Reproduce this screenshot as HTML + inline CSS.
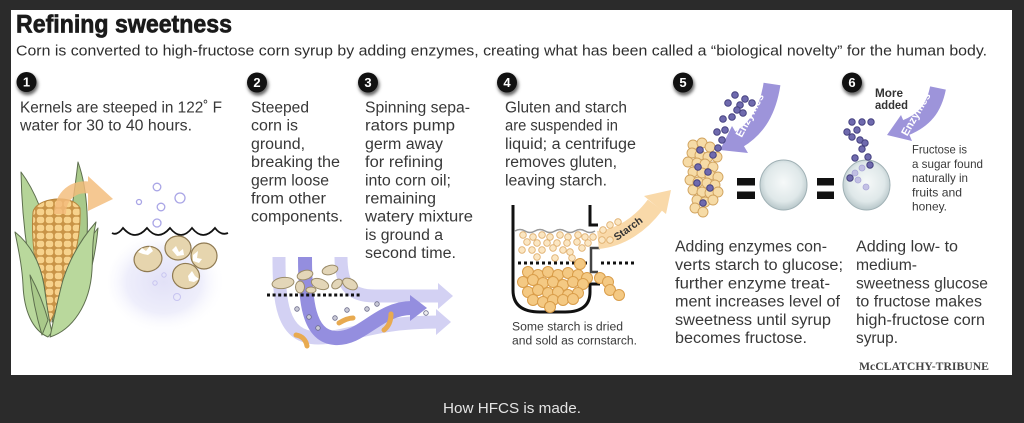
<!DOCTYPE html>
<html><head><meta charset="utf-8">
<style>
html,body{margin:0;padding:0;background:#2b2b2b;}
svg{display:block}
</style></head>
<body>
<svg width="1024" height="423" viewBox="0 0 1024 423" xmlns="http://www.w3.org/2000/svg" font-family="'Liberation Sans', sans-serif">
<defs>
 <filter id="sh" x="-50%" y="-50%" width="200%" height="200%"><feGaussianBlur stdDeviation="1.6"/></filter>
 <radialGradient id="water" cx="0.45" cy="0.5" r="0.5">
   <stop offset="0" stop-color="#e2e1f7"/>
   <stop offset="0.6" stop-color="#eeeefb"/>
   <stop offset="1" stop-color="#ffffff" stop-opacity="0"/>
 </radialGradient>
 <radialGradient id="glob" cx="0.5" cy="0.45" r="0.55">
   <stop offset="0" stop-color="#f6f9f9"/>
   <stop offset="0.7" stop-color="#dfe8e9"/>
   <stop offset="1" stop-color="#b8c7ca"/>
 </radialGradient>
 <pattern id="kern" width="9" height="8" patternUnits="userSpaceOnUse">
   <rect width="9" height="8" fill="#c99447"/>
   <rect x="0.8" y="0.8" width="7.4" height="6.4" rx="2.5" fill="#f7d28c"/>
 </pattern>
 <clipPath id="cobclip"><path d="M33,212 C36,198 72,193 80,208 C82,245 66,290 50,322 C40,290 30,250 33,212 Z"/></clipPath>
</defs>

<rect width="1024" height="423" fill="#2b2b2b"/>
<rect x="11" y="10" width="1001" height="365" fill="#ffffff"/>

<!-- Title -->
<text x="16" y="32.5" font-size="25" font-weight="bold" fill="#1a1a1a" stroke="#1a1a1a" stroke-width="0.7" textLength="216" lengthAdjust="spacingAndGlyphs">Refining sweetness</text>
<text x="16" y="55.5" font-size="15" fill="#2e2e2e" textLength="971" lengthAdjust="spacingAndGlyphs">Corn is converted to high-fructose corn syrup by adding enzymes, creating what has been called a “biological novelty” for the human body.</text>

<!-- Number circles -->
<g font-weight="bold" font-size="13" fill="#fff" text-anchor="middle">
 <circle cx="27.5" cy="84.5" r="10.5" fill="#666" filter="url(#sh)"/><circle cx="26.5" cy="82" r="10" fill="#111"/><text x="26.5" y="86.5">1</text>
 <circle cx="258" cy="85" r="10.5" fill="#666" filter="url(#sh)"/><circle cx="257" cy="82.5" r="10" fill="#111"/><text x="257" y="87">2</text>
 <circle cx="369" cy="85" r="10.5" fill="#666" filter="url(#sh)"/><circle cx="368" cy="82.5" r="10" fill="#111"/><text x="368" y="87">3</text>
 <circle cx="508" cy="85" r="10.5" fill="#666" filter="url(#sh)"/><circle cx="507" cy="82.5" r="10" fill="#111"/><text x="507" y="87">4</text>
 <circle cx="684" cy="85" r="10.5" fill="#666" filter="url(#sh)"/><circle cx="683" cy="82.5" r="10" fill="#111"/><text x="683" y="87">5</text>
 <circle cx="853" cy="85" r="10.5" fill="#666" filter="url(#sh)"/><circle cx="852" cy="82.5" r="10" fill="#111"/><text x="852" y="87">6</text>
</g>

<!-- Step texts -->
<g font-size="15.5" fill="#383838">
 <text x="20" y="112.5" textLength="202" lengthAdjust="spacingAndGlyphs">Kernels are steeped in 122˚ F</text>
 <text x="20" y="130.7" textLength="172" lengthAdjust="spacingAndGlyphs">water for 30 to 40 hours.</text>

 <text x="251" y="112.5" textLength="58" lengthAdjust="spacingAndGlyphs">Steeped</text>
 <text x="251" y="130.7" textLength="47" lengthAdjust="spacingAndGlyphs">corn is</text>
 <text x="251" y="148.9" textLength="54" lengthAdjust="spacingAndGlyphs">ground,</text>
 <text x="251" y="167.1" textLength="89" lengthAdjust="spacingAndGlyphs">breaking the</text>
 <text x="251" y="185.3" textLength="78" lengthAdjust="spacingAndGlyphs">germ loose</text>
 <text x="251" y="203.5" textLength="75" lengthAdjust="spacingAndGlyphs">from other</text>
 <text x="251" y="221.7" textLength="92" lengthAdjust="spacingAndGlyphs">components.</text>

 <text x="365" y="112.5" textLength="105" lengthAdjust="spacingAndGlyphs">Spinning sepa-</text>
 <text x="365" y="130.7" textLength="90" lengthAdjust="spacingAndGlyphs">rators pump</text>
 <text x="365" y="148.9" textLength="78" lengthAdjust="spacingAndGlyphs">germ away</text>
 <text x="365" y="167.1" textLength="78" lengthAdjust="spacingAndGlyphs">for refining</text>
 <text x="365" y="185.3" textLength="86" lengthAdjust="spacingAndGlyphs">into corn oil;</text>
 <text x="365" y="203.5" textLength="71" lengthAdjust="spacingAndGlyphs">remaining</text>
 <text x="365" y="221.7" textLength="108" lengthAdjust="spacingAndGlyphs">watery mixture</text>
 <text x="365" y="239.9" textLength="78" lengthAdjust="spacingAndGlyphs">is ground a</text>
 <text x="365" y="258.1" textLength="91" lengthAdjust="spacingAndGlyphs">second time.</text>

 <text x="505" y="112.5" textLength="122" lengthAdjust="spacingAndGlyphs">Gluten and starch</text>
 <text x="505" y="130.7" textLength="113" lengthAdjust="spacingAndGlyphs">are suspended in</text>
 <text x="505" y="148.9" textLength="131" lengthAdjust="spacingAndGlyphs">liquid; a centrifuge</text>
 <text x="505" y="167.1" textLength="112" lengthAdjust="spacingAndGlyphs">removes gluten,</text>
 <text x="505" y="185.3" textLength="102" lengthAdjust="spacingAndGlyphs">leaving starch.</text>

 <text x="675" y="251.7" textLength="152" lengthAdjust="spacingAndGlyphs">Adding enzymes con-</text>
 <text x="675" y="270" textLength="168" lengthAdjust="spacingAndGlyphs">verts starch to glucose;</text>
 <text x="675" y="288.3" textLength="155" lengthAdjust="spacingAndGlyphs">further enzyme treat-</text>
 <text x="675" y="306.6" textLength="165" lengthAdjust="spacingAndGlyphs">ment increases level of</text>
 <text x="675" y="324.9" textLength="156" lengthAdjust="spacingAndGlyphs">sweetness until syrup</text>
 <text x="675" y="343.2" textLength="132" lengthAdjust="spacingAndGlyphs">becomes fructose.</text>

 <text x="856" y="251.7" textLength="102" lengthAdjust="spacingAndGlyphs">Adding low- to</text>
 <text x="856" y="270" textLength="61" lengthAdjust="spacingAndGlyphs">medium-</text>
 <text x="856" y="288.3" textLength="132" lengthAdjust="spacingAndGlyphs">sweetness glucose</text>
 <text x="856" y="306.6" textLength="126" lengthAdjust="spacingAndGlyphs">to fructose makes</text>
 <text x="856" y="324.9" textLength="129" lengthAdjust="spacingAndGlyphs">high-fructose corn</text>
 <text x="856" y="343.2" textLength="42" lengthAdjust="spacingAndGlyphs">syrup.</text>
</g>

<!-- ============ STEP 1: corn ============ -->
<g stroke="#5d6e4d" stroke-width="1" stroke-linejoin="round">
 <path d="M52,322 C62,270 72,215 78,162 C88,190 90,230 84,270 C78,295 66,315 52,322 Z" fill="#a9c98a"/>
 <path d="M45,326 C30,285 22,225 21,172 C36,192 46,220 52,250 Z" fill="#b5d498"/>
 <path d="M56,300 C70,270 85,245 98,228 C95,260 88,290 70,315 Z" fill="#b0d094"/>
</g>
<g clip-path="url(#cobclip)">
 <rect x="28" y="190" width="60" height="140" fill="url(#kern)"/>
</g>
<path d="M33,212 C36,198 72,193 80,208 C82,245 66,290 50,322 C40,290 30,250 33,212 Z" fill="none" stroke="#b4843c" stroke-width="1"/>
<g stroke="#5d6e4d" stroke-width="1" stroke-linejoin="round">
 <path d="M48,337 C32,330 24,310 23,285 C22,265 18,248 15,232 C30,244 40,262 44,285 C47,305 49,322 52,332 Z" fill="#b9d89c"/>
 <path d="M50,337 C72,330 90,305 92,270 C93,252 92,240 96,222 C82,238 70,258 63,280 C58,298 54,318 50,337 Z" fill="#b9d89c"/>
 <path d="M42,335 C36,315 32,295 30,275 C38,290 44,305 48,320 Z" fill="#a9c98a"/>
</g>
<!-- orange arrow -->
<g opacity="0.82">
 <path d="M60,214 C60,196 74,184 92,188" fill="none" stroke="#f4bc7b" stroke-width="12"/>
 <polygon points="88,176 113,199 88,211" fill="#f4bc7b"/>
</g>
<!-- water -->
<ellipse cx="170" cy="282" rx="62" ry="52" fill="url(#water)"/>
<g fill="none" stroke="#a9a5e6" stroke-width="1.3">
 <circle cx="157" cy="187" r="3.8"/>
 <circle cx="180" cy="198" r="5"/>
 <circle cx="139" cy="202" r="2.5"/>
 <circle cx="161" cy="207" r="3.8"/>
 <circle cx="157" cy="223" r="4"/>
</g>
<path d="M112,233 Q117,236 123,228 Q135,242 147,228 Q158,242 170,228 Q181,242 192,228 Q203,242 215,228 Q221,236 228,233" fill="none" stroke="#111" stroke-width="1.8"/>
<g stroke="#8f7a52" stroke-width="1.2" fill="#e6d5ae">
 <ellipse cx="148" cy="259" rx="14" ry="12.5" transform="rotate(-15 148 259)"/>
 <ellipse cx="178" cy="248" rx="13" ry="12"/>
 <ellipse cx="186" cy="276" rx="13.5" ry="12.5" transform="rotate(10 186 276)"/>
 <ellipse cx="204" cy="256" rx="13" ry="13"/>
</g>
<g fill="#fff">
 <polygon points="138,252 142,248 146,251 150,246 153,251 148,255 143,254"/>
 <polygon points="172,250 176,246 179,252 183,249 184,255 177,256"/>
 <polygon points="193,255 198,251 197,258 202,259 199,263 193,261"/>
 <polygon points="188,276 192,271 195,276 199,279 194,282 189,281"/>
</g>
<g fill="none" stroke="#c7c4f0" stroke-width="1">
 <circle cx="164" cy="275" r="2.2"/>
 <circle cx="155" cy="283" r="2.2"/>
 <circle cx="177" cy="297" r="3.5"/>
</g>

<!-- ============ STEP 2/3 diagram ============ -->
<g fill="none" stroke-linecap="butt">
 <path d="M279,257 C279,300 281,338 318,338 C350,338 370,322 438,322" stroke="#d3d1f3" stroke-width="13"/>
 <path d="M341,257 C341,283 348,296 375,296 L440,296" stroke="#d3d1f3" stroke-width="13"/>
 <path d="M305,257 C305,300 308,336 335,338 C362,340 378,308 412,308" stroke="#948edf" stroke-width="14"/>
</g>
<polygon points="436,309 451,322 436,335" fill="#d3d1f3"/>
<polygon points="438,283 453,296 438,309" fill="#d3d1f3"/>
<polygon points="410,295 427,308 410,321" fill="#948edf"/>
<g fill="#e3d6b8" stroke="#9b8c6a" stroke-width="1">
 <ellipse cx="283" cy="283" rx="11" ry="5.5" transform="rotate(-8 283 283)"/>
 <ellipse cx="305" cy="275" rx="8" ry="4.5" transform="rotate(-15 305 275)"/>
 <ellipse cx="330" cy="270" rx="8" ry="4.5" transform="rotate(-15 330 270)"/>
 <ellipse cx="320" cy="284" rx="9" ry="5" transform="rotate(20 320 284)"/>
 <ellipse cx="337" cy="284" rx="6" ry="4" transform="rotate(-40 337 284)"/>
 <ellipse cx="350" cy="284" rx="8" ry="5" transform="rotate(30 350 284)"/>
 <ellipse cx="300" cy="287" rx="4.5" ry="6"/>
 <ellipse cx="311" cy="290" rx="5" ry="3"/>
</g>
<line x1="267" y1="295" x2="360" y2="295" stroke="#111" stroke-width="3" stroke-dasharray="3,2.6"/>
<g fill="#c9c9d6" stroke="#6b6b8a" stroke-width="0.8">
 <circle cx="297" cy="309" r="2.3"/>
 <circle cx="309" cy="317" r="2.3"/>
 <circle cx="318" cy="328" r="2.3"/>
 <circle cx="335" cy="318" r="2.3"/>
 <circle cx="367" cy="309" r="2.3"/>
 <circle cx="377" cy="304" r="2.3"/>
 <circle cx="347" cy="310" r="2.3"/>
 <circle cx="426" cy="313" r="2.3" fill="#eee"/>
</g>
<g fill="none" stroke="#e8aa50" stroke-width="5" stroke-linecap="round">
 <path d="M296,335 C302,336 306,340 307,346"/>
 <path d="M339,323 C344,320 349,318 353,318"/>
 <path d="M384,330 C389,326 391,320 391,314"/>
</g>

<!-- ============ STEP 4: centrifuge ============ -->
<g fill="none" stroke="#111" stroke-width="3">
 <path d="M513,205 L513,290 Q513,312 540,312 L565,312 Q590,312 590,292 L590,284 L600,284"/>
 <path d="M590,205 L590,225 L598,225"/>
 <path d="M600,248 L591,248 L591,272 L598,272" stroke="#444" stroke-width="2.5"/>
</g>
<path d="M515,231 q5,-3 10,0 t10,0 t10,0 t10,0 t10,0 t10,0 t10,0 t10,0" fill="none" stroke="#999" stroke-width="1.5"/>
<!-- starch arrow -->
<path d="M598,240 C620,238 640,225 655,205" fill="none" stroke="#f9d9a9" stroke-width="18"/>
<polygon points="644,196 671,190 666,214" fill="#f9d9a9"/>
<text x="0" y="0" font-size="10.5" font-weight="bold" fill="#333" transform="translate(617,241) rotate(-36)">Starch</text>
<g fill="#fbe6c2" stroke="#e0b070" stroke-width="0.9">
 <circle cx="523" cy="235" r="3.3"/><circle cx="533" cy="237" r="3.3"/><circle cx="542" cy="235" r="3.3"/>
 <circle cx="550" cy="237" r="3.3"/><circle cx="560" cy="235" r="3.3"/><circle cx="568" cy="237" r="3.3"/>
 <circle cx="578" cy="235" r="3.3"/><circle cx="585" cy="237" r="3.3"/><circle cx="593" cy="237" r="3.3"/>
 <circle cx="602" cy="240" r="3.3"/><circle cx="610" cy="240" r="3.3"/>
 <circle cx="527" cy="242" r="3.3"/><circle cx="537" cy="243" r="3.3"/><circle cx="547" cy="243" r="3.3"/>
 <circle cx="557" cy="243" r="3.3"/><circle cx="567" cy="243" r="3.3"/><circle cx="577" cy="242" r="3.3"/>
 <circle cx="588" cy="243" r="3.3"/><circle cx="522" cy="250" r="3.3"/><circle cx="532" cy="250" r="3.3"/>
 <circle cx="542" cy="250" r="3.3"/><circle cx="553" cy="248" r="3.3"/><circle cx="563" cy="250" r="3.3"/>
 <circle cx="570" cy="252" r="3.3"/><circle cx="582" cy="248" r="3.3"/><circle cx="537" cy="257" r="3.3"/>
 <circle cx="555" cy="258" r="3.3"/><circle cx="572" cy="258" r="3.3"/>
 <circle cx="603" cy="230" r="3.3"/><circle cx="610" cy="225" r="3.3"/><circle cx="618" cy="222" r="3.3"/>
</g>
<line x1="518" y1="263" x2="587" y2="263" stroke="#111" stroke-width="3" stroke-dasharray="3,3"/>
<line x1="601" y1="263" x2="634" y2="263" stroke="#111" stroke-width="3" stroke-dasharray="3,3"/>
<g fill="#f4c983" stroke="#d99d4a" stroke-width="1">
 <circle cx="580" cy="264" r="5.5"/>
 <circle cx="528" cy="272" r="5.5"/><circle cx="538" cy="275" r="5.5"/><circle cx="548" cy="272" r="5.5"/>
 <circle cx="558" cy="275" r="5.5"/><circle cx="568" cy="273" r="5.5"/><circle cx="578" cy="275" r="5.5"/>
 <circle cx="587" cy="278" r="5.5"/><circle cx="523" cy="282" r="5.5"/><circle cx="533" cy="280" r="5.5"/>
 <circle cx="543" cy="283" r="5.5"/><circle cx="553" cy="282" r="5.5"/><circle cx="563" cy="285" r="5.5"/>
 <circle cx="573" cy="282" r="5.5"/><circle cx="583" cy="284" r="5.5"/><circle cx="528" cy="292" r="5.5"/>
 <circle cx="538" cy="290" r="5.5"/><circle cx="548" cy="293" r="5.5"/><circle cx="558" cy="292" r="5.5"/>
 <circle cx="568" cy="295" r="5.5"/><circle cx="578" cy="293" r="5.5"/><circle cx="533" cy="300" r="5.5"/>
 <circle cx="543" cy="302" r="5.5"/><circle cx="553" cy="300" r="5.5"/><circle cx="563" cy="300" r="5.5"/>
 <circle cx="573" cy="299" r="5.5"/><circle cx="550" cy="307" r="5.5"/>
 <circle cx="600" cy="278" r="5.5"/><circle cx="608" cy="282" r="5.5"/><circle cx="610" cy="290" r="5.5"/><circle cx="619" cy="295" r="5.5"/>
</g>
<g font-size="11.5" fill="#3a3a3a">
 <text x="512" y="330.5" textLength="111" lengthAdjust="spacingAndGlyphs">Some starch is dried</text>
 <text x="512" y="344.5" textLength="125" lengthAdjust="spacingAndGlyphs">and sold as cornstarch.</text>
</g>

<!-- ============ STEP 5 ============ -->
<path d="M772,84 C768,110 758,128 738,140" fill="none" stroke="#9d94da" stroke-width="17"/>
<polygon points="732,126 748,153 720,150" fill="#9d94da"/>
<text x="0" y="0" font-size="11" font-weight="bold" fill="#fff" text-anchor="middle" transform="translate(753,117) rotate(-62)">Enzymes</text>
<g fill="#f6dba6" stroke="#d1a35e" stroke-width="0.9">
 <circle cx="693" cy="145" r="5"/><circle cx="702" cy="143" r="5"/><circle cx="710" cy="147" r="5"/>
 <circle cx="692" cy="153" r="5"/><circle cx="700" cy="155" r="5"/><circle cx="708" cy="157" r="5"/>
 <circle cx="717" cy="157" r="5"/><circle cx="688" cy="162" r="5"/><circle cx="697" cy="163" r="5"/>
 <circle cx="705" cy="164" r="5"/><circle cx="713" cy="167" r="5"/><circle cx="693" cy="172" r="5"/>
 <circle cx="702" cy="173" r="5"/><circle cx="710" cy="175" r="5"/><circle cx="718" cy="177" r="5"/>
 <circle cx="690" cy="180" r="5"/><circle cx="698" cy="182" r="5"/><circle cx="707" cy="183" r="5"/>
 <circle cx="715" cy="185" r="5"/><circle cx="693" cy="190" r="5"/><circle cx="702" cy="192" r="5"/>
 <circle cx="710" cy="193" r="5"/><circle cx="718" cy="192" r="5"/><circle cx="697" cy="200" r="5"/>
 <circle cx="705" cy="202" r="5"/><circle cx="713" cy="200" r="5"/><circle cx="695" cy="208" r="5"/>
 <circle cx="703" cy="212" r="5"/>
</g>
<g fill="#6f6aae" stroke="#45417f" stroke-width="1">
 <circle cx="735" cy="95" r="3.3"/><circle cx="745" cy="99" r="3.3"/><circle cx="728" cy="103" r="3.3"/>
 <circle cx="740" cy="105" r="3.3"/><circle cx="752" cy="103" r="3.3"/><circle cx="737" cy="110" r="3.3"/>
 <circle cx="743" cy="113" r="3.3"/><circle cx="732" cy="117" r="3.3"/><circle cx="723" cy="119" r="3.3"/>
 <circle cx="725" cy="130" r="3.3"/><circle cx="717" cy="132" r="3.3"/><circle cx="722" cy="140" r="3.3"/>
 <circle cx="718" cy="148" r="3.3"/>
 <circle cx="700" cy="150" r="3.3"/><circle cx="713" cy="155" r="3.3"/><circle cx="698" cy="167" r="3.3"/>
 <circle cx="708" cy="172" r="3.3"/><circle cx="697" cy="183" r="3.3"/><circle cx="710" cy="188" r="3.3"/>
 <circle cx="703" cy="203" r="3.3"/>
</g>
<rect x="737" y="178" width="18" height="7.5" fill="#111"/>
<rect x="737" y="191.5" width="18" height="7.5" fill="#111"/>
<ellipse cx="783.5" cy="185" rx="23.5" ry="25" fill="url(#glob)" stroke="#9fb0b4" stroke-width="1"/>
<rect x="817" y="178" width="17" height="7.5" fill="#111"/>
<rect x="817" y="191.5" width="17" height="7.5" fill="#111"/>

<!-- ============ STEP 6 ============ -->
<ellipse cx="866.5" cy="185" rx="23.5" ry="25" fill="url(#glob)" stroke="#9fb0b4" stroke-width="1"/>
<path d="M938,88 C934,108 925,120 905,128" fill="none" stroke="#9d94da" stroke-width="16"/>
<polygon points="901,115 912,141 887,135" fill="#9d94da"/>
<text x="0" y="0" font-size="11" font-weight="bold" fill="#fff" text-anchor="middle" transform="translate(919,116) rotate(-60)">Enzymes</text>
<g font-size="11.5" font-weight="bold" fill="#333">
 <text x="875" y="97" textLength="28" lengthAdjust="spacingAndGlyphs">More</text>
 <text x="875" y="109" textLength="33" lengthAdjust="spacingAndGlyphs">added</text>
</g>
<g fill="#6f6aae" stroke="#45417f" stroke-width="1">
 <circle cx="852" cy="122" r="3.2"/><circle cx="862" cy="122" r="3.2"/><circle cx="871" cy="122" r="3.2"/>
 <circle cx="847" cy="132" r="3.2"/><circle cx="857" cy="130" r="3.2"/><circle cx="852" cy="137" r="3.2"/>
 <circle cx="860" cy="140" r="3.2"/><circle cx="865" cy="143" r="3.2"/><circle cx="862" cy="149" r="3.2"/>
 <circle cx="868" cy="157" r="3.2"/><circle cx="855" cy="158" r="3.2"/><circle cx="870" cy="165" r="3.2"/>
 <circle cx="850" cy="178" r="3.2"/>
</g>
<g fill="#b9b5e2" stroke="#9a95d2" stroke-width="0.8" opacity="0.8">
 <circle cx="862" cy="168" r="3"/><circle cx="855" cy="173" r="3"/><circle cx="858" cy="180" r="3"/><circle cx="866" cy="187" r="3"/>
</g>
<g font-size="12" fill="#3a3a3a">
 <text x="912" y="153.5" textLength="55" lengthAdjust="spacingAndGlyphs">Fructose is</text>
 <text x="912" y="167.8" textLength="71" lengthAdjust="spacingAndGlyphs">a sugar found</text>
 <text x="912" y="182.1" textLength="56" lengthAdjust="spacingAndGlyphs">naturally in</text>
 <text x="912" y="196.4" textLength="50" lengthAdjust="spacingAndGlyphs">fruits and</text>
 <text x="912" y="210.7" textLength="35" lengthAdjust="spacingAndGlyphs">honey.</text>
</g>

<!-- credit -->
<text x="859" y="370" font-size="11.5" font-weight="bold" fill="#444" font-family="'Liberation Serif', serif" textLength="130" lengthAdjust="spacingAndGlyphs">McCLATCHY-TRIBUNE</text>

<!-- caption -->
<text x="443" y="413" font-size="15" fill="#e4e4e4" textLength="138" lengthAdjust="spacingAndGlyphs">How HFCS is made.</text>
</svg>
</body></html>
